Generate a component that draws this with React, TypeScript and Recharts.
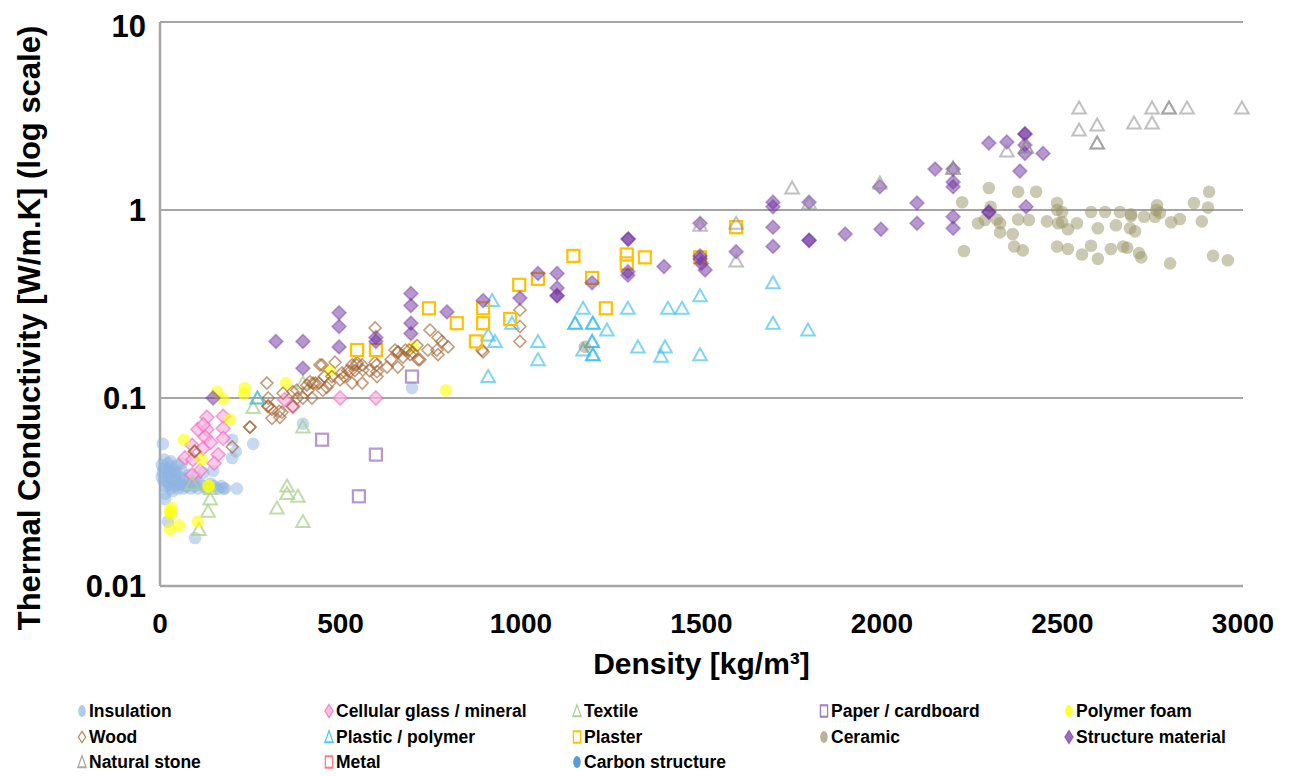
import React from 'react';
import { ScatterChart, Scatter, XAxis, YAxis, CartesianGrid } from 'recharts';

type P = [number, number];

const FONT = '"Liberation Sans", Arial, sans-serif';

// [density kg/m3, conductivity W/m.K]
const insulation: P[] = [
  [5, 0.044], [8, 0.040], [10, 0.036], [12, 0.047], [15, 0.034], [18, 0.042], [20, 0.038], [22, 0.045],
  [25, 0.035], [28, 0.040], [30, 0.033], [32, 0.043], [35, 0.037], [38, 0.041], [40, 0.034], [42, 0.039],
  [45, 0.036], [48, 0.044], [50, 0.033], [55, 0.038], [58, 0.035], [60, 0.041], [65, 0.033], [70, 0.037],
  [75, 0.034], [80, 0.039], [85, 0.033], [90, 0.036], [95, 0.034], [100, 0.038], [105, 0.033], [110, 0.035],
  [120, 0.034], [130, 0.033], [140, 0.035], [150, 0.034], [160, 0.033], [170, 0.034], [180, 0.033],
  [15, 0.031], [35, 0.032], [5, 0.038], [10, 0.042], [30, 0.046], [60, 0.045], [120, 0.040], [147, 0.041],
  [8, 0.057], [258, 0.057], [200, 0.060], [200, 0.048], [213, 0.033], [175, 0.033], [14, 0.029],
  [97, 0.018], [22, 0.022], [396, 0.073], [698, 0.113], [210, 0.052], [20, 0.036], [45, 0.040],
  [70, 0.034], [25, 0.041], [55, 0.035],
];

const cellularGlass: P[] = [
  [130, 0.079], [175, 0.080], [130, 0.068], [175, 0.069], [105, 0.068], [125, 0.062], [175, 0.061],
  [89, 0.056], [119, 0.054], [69, 0.048], [161, 0.050], [91, 0.047], [111, 0.041], [89, 0.039],
  [120, 0.072], [140, 0.058], [150, 0.045], [499, 0.1], [598, 0.1], [345, 0.098], [368, 0.09],
];

const textile: P[] = [
  [258, 0.089], [270, 0.1], [396, 0.07], [396, 0.12], [352, 0.034], [352, 0.031], [382, 0.030],
  [324, 0.026], [396, 0.022], [89, 0.035], [139, 0.029], [133, 0.025], [108, 0.020], [140, 0.033],
];

const paper: P[] = [[698, 0.13], [449, 0.06], [598, 0.05], [551, 0.030]];

const polymerFoam: P[] = [
  [158, 0.108], [175, 0.099], [235, 0.113], [233, 0.105], [349, 0.12], [792, 0.11], [194, 0.077],
  [66, 0.06], [116, 0.047], [136, 0.034], [28, 0.025], [30, 0.024], [32, 0.026], [28, 0.020],
  [53, 0.021], [105, 0.022], [471, 0.14], [700, 0.187], [133, 0.034],
];

const wood: P[] = [
  [97, 0.052], [200, 0.055], [249, 0.070], [296, 0.12], [299, 0.09], [310, 0.078], [338, 0.084],
  [368, 0.09], [368, 0.108], [396, 0.1], [421, 0.1], [407, 0.117], [424, 0.12], [451, 0.11],
  [449, 0.15], [476, 0.13], [504, 0.136], [532, 0.15], [532, 0.12], [562, 0.141], [596, 0.155],
  [601, 0.13], [629, 0.146], [659, 0.176], [659, 0.146], [693, 0.17], [715, 0.16], [742, 0.18],
  [770, 0.17], [798, 0.187], [892, 0.18], [596, 0.236], [748, 0.23], [770, 0.21], [546, 0.154],
  [601, 0.138], [651, 0.18], [673, 0.165], [712, 0.19], [720, 0.16], [767, 0.18], [485, 0.155],
  [443, 0.15], [415, 0.122], [379, 0.11], [341, 0.106], [310, 0.087], [332, 0.079], [499, 0.125],
  [526, 0.138], [462, 0.114], [997, 0.294], [997, 0.24], [997, 0.2], [895, 0.176], [781, 0.2],
  [430, 0.12], [440, 0.12], [455, 0.13], [510, 0.13], [540, 0.14], [560, 0.15], [580, 0.14],
  [640, 0.16], [680, 0.18], [700, 0.175], [330, 0.085], [380, 0.1], [300, 0.091], [560, 0.12],
  [470, 0.12], [520, 0.14], [545, 0.15], [600, 0.15], [660, 0.175], [690, 0.18], [410, 0.11],
  [300, 0.1], [95, 0.052], [249, 0.07],
];

const plastic: P[] = [
  [270, 0.1], [920, 0.33], [1172, 0.3], [1150, 0.25], [1150, 0.25], [1199, 0.25], [1199, 0.25],
  [1238, 0.23], [1296, 0.30], [1407, 0.30], [1446, 0.30], [1496, 0.35], [1698, 0.41], [1698, 0.25],
  [1795, 0.23], [1047, 0.2], [1047, 0.16], [909, 0.13], [928, 0.2], [975, 0.25], [909, 0.216],
  [1197, 0.2], [1197, 0.2], [1199, 0.17], [1199, 0.17], [1172, 0.18], [1324, 0.187], [1399, 0.187],
  [1388, 0.167], [1496, 0.17],
];

const plaster: P[] = [
  [1145, 0.57], [1293, 0.58], [1293, 0.52], [1343, 0.56], [1197, 0.435], [995, 0.40], [1047, 0.43],
  [895, 0.30], [895, 0.25], [822, 0.25], [875, 0.2], [970, 0.263], [1235, 0.30], [1496, 0.56],
  [1596, 0.81], [546, 0.18], [598, 0.18], [745, 0.30],
];

const ceramic: P[] = [
  [2296, 1.31], [2222, 1.10], [2227, 0.605], [2266, 0.85], [2285, 0.885], [2301, 1.04], [2318, 0.89],
  [2327, 0.85], [2327, 0.76], [2362, 0.745], [2366, 0.64], [2390, 0.61], [2377, 0.89], [2377, 1.25],
  [2427, 1.25], [2407, 0.885], [2457, 0.87], [2485, 1.09], [2485, 1.0], [2499, 0.975], [2488, 0.85],
  [2499, 0.86], [2515, 0.79], [2540, 0.85], [2485, 0.64], [2515, 0.62], [2554, 0.58], [2579, 0.645],
  [2598, 0.55], [2579, 0.975], [2618, 0.975], [2598, 0.80], [2634, 0.62], [2659, 0.975], [2648, 0.83],
  [2668, 0.64], [2679, 0.63], [2690, 0.95], [2687, 0.80], [2701, 0.77], [2712, 0.59], [2718, 0.56],
  [2726, 0.92], [2756, 0.92], [2762, 1.06], [2770, 0.965], [2798, 0.52], [2801, 0.86], [2825, 0.895],
  [2864, 1.09], [2906, 1.25], [2903, 1.03], [2886, 0.87], [2917, 0.57], [2958, 0.54], [1177, 0.187],
  [2690, 0.93], [2760, 1.0],
];

const structure: P[] = [
  [321, 0.2], [396, 0.2], [396, 0.144], [147, 0.1], [496, 0.284], [496, 0.24], [496, 0.187],
  [598, 0.21], [598, 0.2], [695, 0.36], [695, 0.31], [695, 0.25], [695, 0.22], [795, 0.287],
  [895, 0.33], [997, 0.34], [1047, 0.46], [1100, 0.46], [1100, 0.385], [1100, 0.35], [1100, 0.35],
  [1197, 0.41], [1296, 0.45], [1296, 0.47], [1297, 0.70], [1297, 0.70], [1396, 0.50], [1496, 0.55],
  [1510, 0.48], [1496, 0.85], [1596, 0.60], [1698, 0.81], [1698, 0.64], [1698, 1.04], [1698, 1.1],
  [1798, 0.69], [1798, 0.69], [1798, 1.1], [1898, 0.745], [1997, 0.79], [1994, 1.33], [2097, 1.09],
  [2097, 0.85], [2147, 1.65], [2197, 1.33], [2197, 1.41], [2197, 0.92], [2197, 0.8], [2197, 1.65],
  [2296, 2.27], [2346, 2.30], [2396, 2.54], [2396, 2.54], [2396, 2.22], [2396, 2.0], [2446, 2.0],
  [2382, 1.61], [2296, 0.975], [2296, 0.975], [2399, 1.04], [1496, 0.57], [1500, 0.52],
];

const naturalStone: P[] = [
  [2546, 3.49], [2546, 2.66], [2596, 2.83], [2596, 2.27], [2596, 2.27], [2748, 3.49], [2795, 3.49],
  [2795, 3.49], [2845, 3.49], [2698, 2.9], [2748, 2.9], [2346, 2.06], [2399, 2.16], [2399, 2.16],
  [2197, 1.67], [2197, 1.67], [2997, 3.49], [1751, 1.31], [1798, 1.09], [1994, 1.39], [1596, 0.535],
  [1596, 0.85], [1496, 0.83],
];

const metal: P[] = [];
const carbonStructure: P[] = [];

type Kind = 'circle' | 'diamond' | 'diamondFill' | 'triangle' | 'square';

type Series = { name: string; data: P[]; kind: Kind; color: string; fill?: string; op: number };

const SERIES: Series[] = [
  { name: 'Insulation', data: insulation, kind: 'circle', color: '#8db4e2', op: 0.5 },
  { name: 'Cellular glass / mineral', data: cellularGlass, kind: 'diamondFill', color: '#f45fbd', fill: '#f7b6e0', op: 0.7 },
  { name: 'Textile', data: textile, kind: 'triangle', color: '#a9d18e', op: 0.75 },
  { name: 'Paper / cardboard', data: paper, kind: 'square', color: '#a47cc9', op: 0.8 },
  { name: 'Polymer foam', data: polymerFoam, kind: 'circle', color: '#ffff00', op: 0.6 },
  { name: 'Wood', data: wood, kind: 'diamond', color: '#a0602a', op: 0.62 },
  { name: 'Plastic / polymer', data: plastic, kind: 'triangle', color: '#29b9f0', op: 0.6 },
  { name: 'Plaster', data: plaster, kind: 'square', color: '#ffc000', op: 1 },
  { name: 'Ceramic', data: ceramic, kind: 'circle', color: '#9a9366', op: 0.5 },
  { name: 'Structure material', data: structure, kind: 'diamondFill', color: '#7030a0', fill: '#7030a0', op: 0.5 },
  { name: 'Natural stone', data: naturalStone, kind: 'triangle', color: '#8c8c8c', op: 0.55 },
  { name: 'Metal', data: metal, kind: 'square', color: '#ff7c80', op: 1 },
  { name: 'Carbon structure', data: carbonStructure, kind: 'circle', color: '#5b9bd5', op: 0.9 },
];

const Marker = ({ s, cx, cy, sx = 1, sy = 1 }: { s: Series; cx: number; cy: number; sx?: number; sy?: number }) => {
  const t = `translate(${cx} ${cy}) scale(${sx} ${sy})`;
  switch (s.kind) {
    case 'circle':
      return <circle transform={t} r={6.3} fill={s.color} fillOpacity={s.op} />;
    case 'diamond':
      return (
        <polygon transform={t} points="0,-6 6,0 0,6 -6,0" fill="none" stroke={s.color}
          strokeOpacity={s.op} strokeWidth={1.6} />
      );
    case 'diamondFill':
      return (
        <polygon transform={t} points="0,-7 7,0 0,7 -7,0" fill={s.fill} fillOpacity={s.op}
          stroke={s.color} strokeOpacity={s.op * 0.8} strokeWidth={1.6} />
      );
    case 'triangle':
      return (
        <polygon transform={t} points="0,-6.5 6.8,5.5 -6.8,5.5" fill="none" stroke={s.color}
          strokeOpacity={s.op} strokeWidth={2} strokeLinejoin="miter" />
      );
    case 'square':
      return (
        <rect transform={t} x={-6} y={-6} width={12} height={12} fill="none" stroke={s.color}
          strokeOpacity={s.op} strokeWidth={2.2} />
      );
  }
  return null;
};

const shapeFor = (s: Series) => (p: any) => {
  if (p.cx == null || p.cy == null) return <g />;
  return <Marker s={s} cx={p.cx} cy={p.cy} />;
};

const W = 1275;
const H = 680;

const LEGEND_COLS = [68, 315, 563, 810, 1055];
const LEGEND_ROWS = [703, 729, 754];

const YTitle = (props: any) => {
  const vb = props.viewBox || { x: 0, y: 0, width: 0, height: 0 };
  const x = vb.x + 21;
  const y = 320;
  return (
    <text x={x} y={y} transform={`rotate(-90 ${x} ${y})`} textAnchor="middle" dominantBaseline="central"
      style={{ fontFamily: FONT, fontSize: 31, fontWeight: 700, fill: '#000' }}>
      Thermal Conductivity [W/m.K] (log scale)
    </text>
  );
};

const XTitle = (props: any) => {
  const vb = props.viewBox || { x: 0, y: 0, width: 0, height: 0 };
  return (
    <text x={vb.x + vb.width / 2} y={666} textAnchor="middle"
      style={{ fontFamily: FONT, fontSize: 30, fontWeight: 700, fill: '#000' }}>
      Density [kg/m³]
    </text>
  );
};

export default function App() {
  return (
    <div style={{ position: 'relative', width: W, height: 768, fontFamily: FONT }}>
      <ScatterChart width={W} height={H} margin={{ top: 14, right: 40, bottom: 12, left: 0 }}>
        <CartesianGrid horizontal vertical={false} stroke="#878787" strokeWidth={1.4} />
        <XAxis type="number" dataKey="x" domain={[0, 3000]} ticks={[0, 500, 1000, 1500, 2000, 2500, 3000]}
          tickLine={false} tickMargin={21} height={90}
          axisLine={{ stroke: '#a6a6a6', strokeWidth: 2.5 }}
          tick={{ fontSize: 28, fontWeight: 700, fill: '#000', fontFamily: FONT }}
          label={XTitle} />
        <YAxis type="number" dataKey="y" scale="log" domain={[0.01, 10]} ticks={[0.01, 0.1, 1, 10]}
          allowDataOverflow tickLine={false} tickMargin={8} width={152}
          tickFormatter={(v: number) => String(v)}
          axisLine={{ stroke: '#a6a6a6', strokeWidth: 2.5 }}
          tick={{ fontSize: 31, fontWeight: 700, fill: '#000', fontFamily: FONT }}
          label={YTitle} />
        {SERIES.map((s) => (
          <Scatter key={s.name} name={s.name} data={s.data.map(([x, y]) => ({ x, y }))}
            shape={shapeFor(s)} isAnimationActive={false} />
        ))}
      </ScatterChart>
      {SERIES.map((s, i) => {
        const left = LEGEND_COLS[i % 5];
        const top = LEGEND_ROWS[Math.floor(i / 5)];
        return (
          <div key={s.name} style={{ position: 'absolute', left, top: top - 10, height: 20, display: 'flex',
            alignItems: 'center', fontSize: 17.5, fontWeight: 700, color: '#000', whiteSpace: 'nowrap' }}>
            <svg width={12} height={16} style={{ marginRight: 1 }}>
              <Marker s={{ ...s, op: Math.min(1, s.op + 0.2) }} cx={6} cy={8} sx={0.6} sy={0.95} />
            </svg>
            {s.name}
          </div>
        );
      })}
    </div>
  );
}
